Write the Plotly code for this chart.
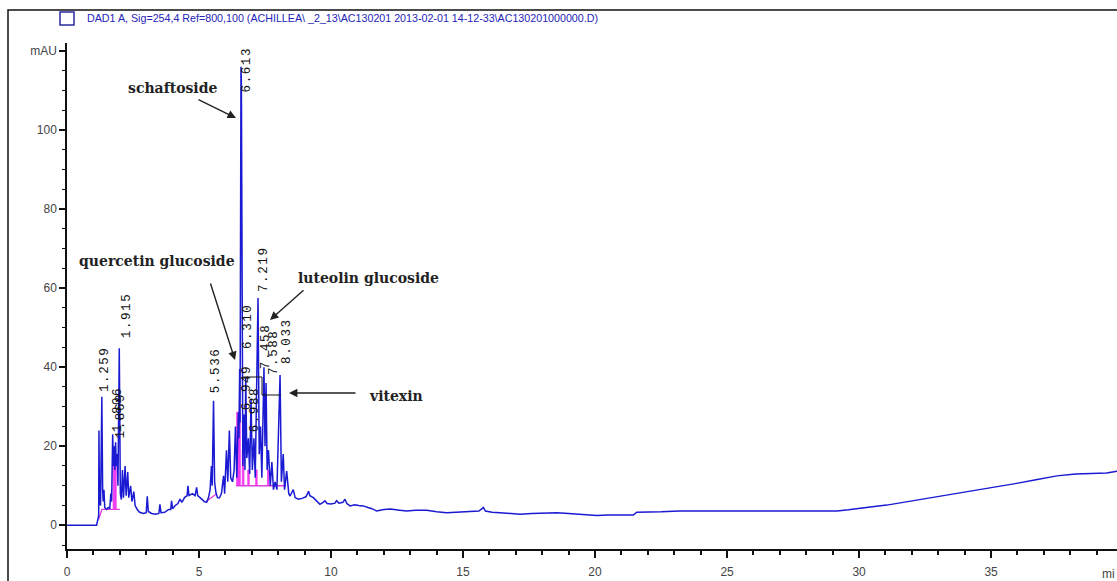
import plotly.graph_objects as go

# ---------------- data ----------------
# chromatogram: retention time (min) and signal (mAU)
time_min = [0.0, 1.12, 1.17, 1.20, 1.21, 1.23, 1.27, 1.32, 1.35, 1.37, 1.40, 1.43, 1.50, 1.56, 1.62,
            1.66, 1.69, 1.73, 1.76, 1.79, 1.81, 1.84, 1.87, 1.90, 1.93, 1.98, 2.02, 2.06, 2.10, 2.14,
            2.20, 2.24, 2.30, 2.34, 2.41, 2.46, 2.53, 2.58, 2.66, 2.75, 2.90, 3.00, 3.04, 3.08, 3.20,
            3.35, 3.48, 3.52, 3.56, 3.70, 3.85, 3.93, 3.96, 4.00, 4.10, 4.20, 4.28, 4.35, 4.45, 4.55,
            4.58, 4.62, 4.75, 4.85, 4.91, 4.95, 5.04, 5.12, 5.20, 5.29, 5.36, 5.42, 5.47, 5.50, 5.55,
            5.59, 5.64, 5.70, 5.77, 5.85, 5.93, 5.97, 6.04, 6.09, 6.15, 6.20, 6.27, 6.33, 6.38, 6.43,
            6.49, 6.51, 6.54, 6.555, 6.575, 6.59, 6.605, 6.635, 6.66, 6.71, 6.74, 6.77, 6.81, 6.87,
            6.92, 6.97, 7.02, 7.08, 7.13, 7.235, 7.28, 7.33, 7.38, 7.46, 7.50, 7.54, 7.58, 7.63,
            7.70, 7.76, 7.82, 7.88, 7.95, 8.07, 8.12, 8.19, 8.24, 8.32, 8.40, 8.45, 8.57, 8.64,
            8.76, 8.90, 9.05, 9.15, 9.20, 9.33, 9.45, 9.58, 9.70, 9.77, 9.85, 10.00, 10.15, 10.21,
            10.30, 10.45, 10.53, 10.60, 10.72, 10.90, 11.05, 11.22, 11.40, 11.55, 11.73, 12.00,
            12.25, 12.49, 12.60, 12.87, 13.20, 13.62, 14.00, 14.38, 14.90, 15.39, 15.60, 15.72,
            15.77, 15.85, 16.10, 16.40, 16.80, 17.16, 17.60, 18.00, 18.55, 19.00, 19.50, 20.06,
            20.50, 21.00, 21.45, 21.58, 22.00, 22.50, 23.20, 24.00, 25.00, 26.00, 27.00, 28.00,
            29.16, 29.60, 30.00, 30.50, 31.05, 31.60, 32.20, 32.70, 33.19, 33.80, 34.58, 35.30,
            35.97, 36.70, 37.49, 38.20, 38.80, 39.38, 39.77]
signal_mau = [0.0, 0.0, 1.5, 2.5, 24.0, 6.0, 5.0, 32.5, 9.0, 6.0, 9.0, 4.5, 4.0, 4.5, 4.2,
              8.0, 6.0, 23.0, 15.0, 20.0, 14.0, 21.0, 15.0, 18.0, 10.0, 44.8, 8.0, 6.5, 14.0, 7.0,
              15.0, 7.5, 13.5, 7.0, 10.0, 6.0, 8.5, 5.0, 4.0, 3.3, 3.0, 3.2, 7.3, 3.5, 3.0,
              2.8, 3.0, 5.3, 3.2, 3.3, 4.0, 4.0, 6.2, 4.2, 5.0, 5.5, 6.6, 5.8, 7.0, 7.5,
              10.0, 7.5, 8.0, 7.5, 9.6, 7.5, 7.0, 6.5, 6.0, 5.8, 7.0, 9.0, 15.0, 10.0, 31.5,
              11.0, 8.3, 7.0, 6.9, 8.0, 12.5, 8.0, 19.0, 11.0, 24.0, 12.0, 11.0, 14.0, 25.0, 12.0,
              28.5, 22.0, 39.5, 26.0, 112.0, 116.0, 112.0, 30.0, 15.0, 28.0, 14.0, 37.5, 17.0, 22.0,
              13.0, 32.0, 14.0, 22.0, 12.0, 57.5, 18.0, 25.0, 12.0, 40.0, 20.0, 36.0, 14.0, 19.0,
              10.0, 16.0, 9.0, 11.0, 9.0, 38.0, 11.0, 18.0, 9.0, 13.7, 8.0, 7.4, 9.0, 7.0,
              6.6, 6.8, 7.2, 8.6, 7.5, 7.0, 6.2, 5.3, 5.8, 6.2, 5.5, 5.4, 5.6, 6.2,
              5.6, 5.8, 6.6, 5.5, 4.9, 5.2, 5.0, 4.9, 4.5, 4.2, 3.6, 4.0,
              4.1, 4.0, 3.8, 3.6, 3.8, 3.8, 3.4, 3.2, 3.3, 3.4, 3.6, 4.2,
              4.5, 3.6, 3.3, 3.2, 3.0, 2.8, 3.0, 3.1, 3.2, 3.0, 2.7, 2.5,
              2.6, 2.6, 2.6, 3.3, 3.3, 3.4, 3.6, 3.6, 3.6, 3.6, 3.6, 3.6,
              3.6, 3.9, 4.3, 4.7, 5.1, 5.7, 6.3, 6.9, 7.4, 8.1, 8.9, 9.8,
              10.6, 11.5, 12.5, 13.0, 13.1, 13.2, 13.7]

# integrated peak areas (magenta), polygons separated by None
area_time = [1.75, 1.75, 1.86, 1.86, None,
             6.43, 6.43, 6.56, 6.56, None,
             6.64, 6.64, 6.70, 6.70, None,
             6.85, 6.85, 6.90, 6.90, None,
             7.15, 7.15, 7.20, 7.20, None,
             7.60, 7.60, 7.64, 7.64]
area_mau = [4.0, 15.0, 15.0, 4.0, None,
            10.0, 28.6, 28.6, 10.0, None,
            10.0, 19.0, 19.0, 10.0, None,
            10.0, 14.0, 14.0, 10.0, None,
            10.0, 14.0, 14.0, 10.0, None,
            10.0, 14.0, 14.0, 10.0]
# integration baselines (magenta lines)
base_time = [1.20, 1.32, 2.00, None, 5.27, 5.67, None, 6.40, 8.30]
base_mau = [1.5, 4.0, 4.0, None, 6.0, 8.0, None, 10.0, 10.0]

# retention-time labels: text, centre time (min), bottom (mAU)
rt_text = ["1.259", "1.806", "1.869", "1.915", "5.536", "6.613", "6.310", "6.949", "6.988",
           "7.219", "7.458", "7.588", "8.033"]
rt_time = [1.44, 1.93, 2.05, 2.27, 5.64, 6.82, 6.86, 6.82, 7.12, 7.46, 7.54, 7.84, 8.33]
rt_base = [33.2, 23.0, 21.5, 46.8, 32.9, 109.0, 44.1, 28.6, 23.0, 58.5, 39.0, 37.5, 40.3]

# compound names
compound_names = ["schaftoside", "quercetin glucoside", "luteolin glucoside", "vitexin"]

x_ticks = [0, 5, 10, 15, 20, 25, 30, 35]
y_ticks = [0, 20, 40, 60, 80, 100, 120]
y_ticktext = ["0", "20", "40", "60", "80", "100", "mAU"]
header = "DAD1 A, Sig=254,4 Ref=800,100 (ACHILLEA\\ _2_13\\AC130201 2013-02-01 14-12-33\\AC130201000000.D)"

# ---------------- layout geometry ----------------
W, H = 1117, 581
ML, MR, MT, MB = 67, 0, 43, 32
XR = [0, 39.77]
YR = [-6, 122]
PW, PH = W - ML - MR, H - MT - MB


def t_of(px):
    return XR[0] + (px - ML) / PW * (XR[1] - XR[0])


def v_of(py):
    return YR[1] - (py - MT) / PH * (YR[1] - YR[0])


def px_paper(px):
    return (px - ML) / PW


def py_paper(py):
    return (H - MB - py) / PH


NARROW = "Liberation Sans Narrow, Arial Narrow, Liberation Sans, sans-serif"
MONO = "Liberation Mono, DejaVu Sans Mono, monospace"
SERIF = "DejaVu Serif, Liberation Serif, serif"

fig = go.Figure()
fig.add_trace(go.Scatter(x=area_time, y=area_mau, mode="lines", fill="toself",
                         fillcolor="#f23cf0", line=dict(color="#f23cf0", width=1),
                         hoverinfo="skip", showlegend=False))
fig.add_trace(go.Scatter(x=base_time, y=base_mau, mode="lines",
                         line=dict(color="#e23ce0", width=1.3),
                         hoverinfo="skip", showlegend=False))
fig.add_trace(go.Scatter(x=time_min, y=signal_mau, mode="lines",
                         line=dict(color="#1a1ad2", width=1.5),
                         showlegend=False))

annotations = []
for txt, t, v in zip(rt_text, rt_time, rt_base):
    annotations.append(dict(x=t, y=v, xref="x", yref="y",
                            text='<span style="letter-spacing:1.6px">' + txt + '</span>',
                            textangle=-90, showarrow=False, xanchor="center", yanchor="bottom",
                            font=dict(family=MONO, size=12.5, color="#111111")))

# compound names
name_pos = [(172, 88), (157, 261), (368, 278), (396, 396)]
for name, (px, py) in zip(compound_names, name_pos):
    annotations.append(dict(x=t_of(px), y=v_of(py), xref="x", yref="y", text="<b>" + name + "</b>",
                            showarrow=False, xanchor="center", yanchor="middle",
                            font=dict(family=SERIF, size=14, color="#222222")))

# arrows: (tail px, head px)
arrows = [((197, 99), (236, 118)), ((210, 282), (235, 360)),
          ((305, 289), (270, 320)), ((357, 393), (289, 393))]
for (tx, ty), (hx, hy) in arrows:
    annotations.append(dict(x=t_of(hx), y=v_of(hy), xref="x", yref="y", text="",
                            showarrow=True, ax=tx - hx, ay=ty - hy,
                            arrowhead=2, arrowsize=1.2, arrowwidth=1.4, arrowcolor="#222222"))

# header legend text
annotations.append(dict(x=px_paper(85), y=py_paper(18), xref="paper", yref="paper", text=header,
                        showarrow=False, xanchor="left", yanchor="middle",
                        font=dict(family=NARROW, size=10.7, color="#2424b8")))
# truncated axis unit (cut by the right edge in the original)
annotations.append(dict(x=px_paper(1117), y=py_paper(574), xref="paper", yref="paper", text="mi",
                        showarrow=False, xanchor="right", yanchor="middle",
                        font=dict(family=NARROW, size=12, color="#444444")))

shapes = [
    # outer frame
    dict(type="rect", xref="paper", yref="paper", x0=px_paper(8), x1=px_paper(1140),
         y0=py_paper(600), y1=py_paper(10), line=dict(color="#111111", width=1.5)),
    # legend swatch
    dict(type="rect", xref="paper", yref="paper", x0=px_paper(60), x1=px_paper(74),
         y0=py_paper(25), y1=py_paper(12), line=dict(color="#2b2ba0", width=1.5)),
    # label leader lines
    dict(type="line", xref="x", yref="y", x0=t_of(243), x1=t_of(262), y0=v_of(377), y1=v_of(377),
         line=dict(color="#111111", width=1)),
    dict(type="line", xref="x", yref="y", x0=t_of(262), x1=t_of(262), y0=v_of(377), y1=v_of(395),
         line=dict(color="#111111", width=1)),
    dict(type="line", xref="x", yref="y", x0=t_of(262), x1=t_of(281), y0=v_of(395), y1=v_of(395),
         line=dict(color="#111111", width=1)),
]

fig.update_layout(
    width=W, height=H,
    margin=dict(l=ML, r=MR, t=MT, b=MB, pad=0),
    paper_bgcolor="white", plot_bgcolor="white",
    showlegend=False,
    annotations=annotations, shapes=shapes,
    xaxis=dict(range=XR, tickmode="array", tickvals=x_ticks, ticks="outside", ticklen=7,
               tickwidth=1.5, tickcolor="#111111", showline=True, linecolor="#111111",
               linewidth=1.5, showgrid=False, zeroline=False, ticklabelstandoff=4,
               minor=dict(tickmode="linear", tick0=0, dtick=1, ticks="outside", ticklen=4,
                          tickwidth=1.5, tickcolor="#111111", showgrid=False),
               tickfont=dict(family=NARROW, size=12, color="#444444")),
    yaxis=dict(range=YR, tickmode="array", tickvals=y_ticks, ticktext=y_ticktext,
               ticks="outside", ticklen=6, tickwidth=1.5, tickcolor="#111111",
               showline=True, linecolor="#111111", linewidth=1.5, showgrid=False,
               zeroline=False,
               minor=dict(tickmode="linear", tick0=0, dtick=5, ticks="outside", ticklen=3,
                          tickwidth=1, tickcolor="#111111", showgrid=False),
               tickfont=dict(family=NARROW, size=12, color="#444444")),
)

fig.write_html("out.html", config={"displayModeBar": False},
               post_script="document.body.style.margin='0';document.body.style.overflow='hidden';")
